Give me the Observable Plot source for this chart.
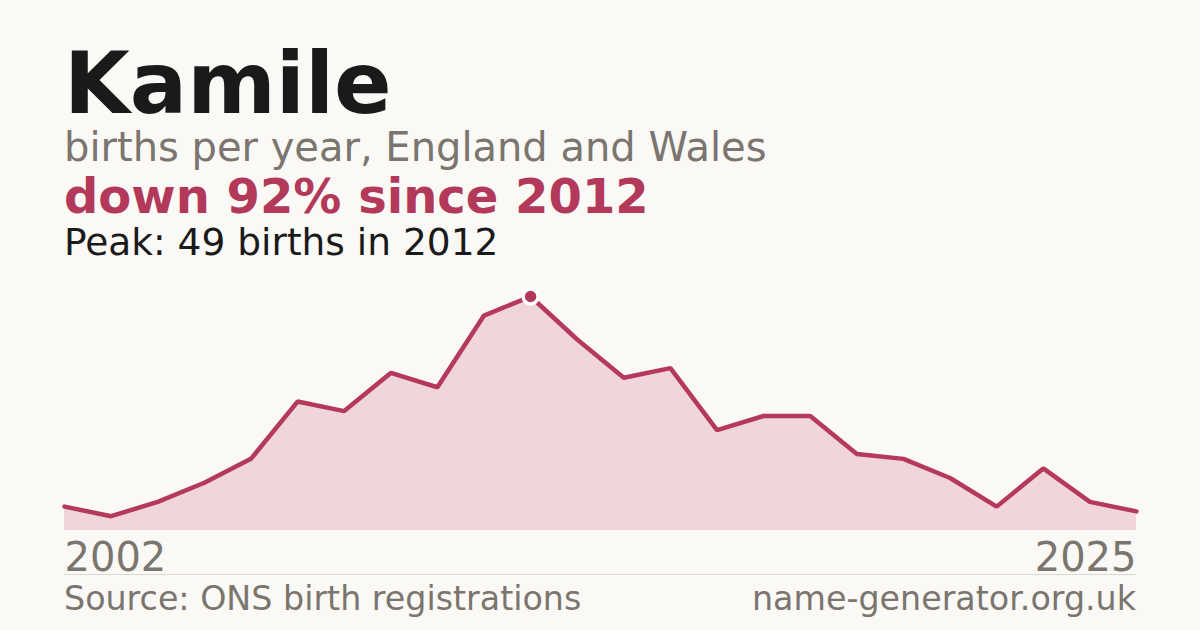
<!DOCTYPE html>
<html>
<head>
<meta charset="utf-8">
<script src="https://cdn.jsdelivr.net/npm/d3@7"></script>
<script src="https://cdn.jsdelivr.net/npm/@observablehq/plot@0.6"></script>
<style>
  html, body { margin: 0; padding: 0; background: #faf9f5; }
  body { width: 1200px; height: 630px; position: relative; overflow: hidden; font-family: "DejaVu Sans", sans-serif; }
  .t { position: absolute; left: 64px; white-space: nowrap; line-height: 1; }
  #title { font-weight: bold; font-size: 85px; color: #1a1a1a; top: 41px; }
  #sub { font-size: 40px; color: #7a756e; top: 127px; }
  #change { font-weight: bold; font-size: 48px; color: #b3395a; top: 172px; }
  #peak { font-size: 37.5px; color: #1a1a1a; top: 224px; }
  #chart { position: absolute; left: 0; top: 270px; }
  #rule { position: absolute; left: 64px; width: 1072px; top: 574px; border-top: 1px solid #dcd9d3; }
  .foot { position: absolute; top: 582px; font-size: 33.3px; color: #7a756e; white-space: nowrap; line-height: 1; }
  #src { left: 64px; }
  #site { right: 64px; }
</style>
</head>
<body>
<div class="t" id="title"></div>
<div class="t" id="sub"></div>
<div class="t" id="change"></div>
<div class="t" id="peak"></div>
<div id="chart"></div>
<div id="rule"></div>
<div class="foot" id="src"></div>
<div class="foot" id="site"></div>
<script>
const nameLabel = "Kamile";
const subtitle = "births per year, England and Wales";
const years = [2002,2003,2004,2005,2006,2007,2008,2009,2010,2011,2012,2013,2014,2015,2016,2017,2018,2019,2020,2021,2022,2023,2024,2025];
const births = [5,3,6,10,15,27,25,33,30,45,49,40,32,34,21,24,24,16,15,11,5,13,6,4];
const tickLabels = ["2002","2025"];
const sourceText = "Source: ONS birth registrations";
const siteText = "name-generator.org.uk";

const data = years.map((y, i) => ({year: y, births: births[i]}));
const peakIdx = births.indexOf(Math.max(...births));
const peak = data[peakIdx];
const last = data[data.length - 1];
const pct = Math.round((1 - last.births / peak.births) * 100);

document.getElementById("title").textContent = nameLabel;
document.getElementById("sub").textContent = subtitle;
document.getElementById("change").textContent = `down ${pct}% since ${peak.year}`;
document.getElementById("peak").textContent = `Peak: ${peak.births} births in ${peak.year}`;
document.getElementById("src").textContent = sourceText;
document.getElementById("site").textContent = siteText;

const accent = "#b3395a";
const grey = "#7a756e";

const chart = Plot.plot({
  width: 1200,
  height: 320,
  marginLeft: 64,
  marginRight: 64,
  marginTop: 26,
  marginBottom: 60,
  style: { background: "transparent", fontFamily: "DejaVu Sans, sans-serif", overflow: "visible" },
  x: { domain: [years[0], years[years.length - 1]], axis: null },
  y: { domain: [0, peak.births], axis: null },
  marks: [
    Plot.areaY(data, { x: "year", y: "births", fill: "#f0d5db" }),
    Plot.lineY(data, { x: "year", y: "births", stroke: "#b5395a", strokeWidth: 4.5, strokeLinejoin: "miter" }),
    Plot.dot([peak], { x: "year", y: "births", r: 7.5, fill: accent, stroke: "white", strokeWidth: 3.5 }),
    Plot.text([{year: +tickLabels[0]}], { x: "year", y: 0, text: d => String(d.year), textAnchor: "start", lineAnchor: "bottom", dy: 40, fontSize: 40, fill: grey }),
    Plot.text([{year: +tickLabels[1]}], { x: "year", y: 0, text: d => String(d.year), textAnchor: "end", lineAnchor: "bottom", dy: 40, fontSize: 40, fill: grey })
  ]
});
document.getElementById("chart").appendChild(chart);
</script>
</body>
</html>
